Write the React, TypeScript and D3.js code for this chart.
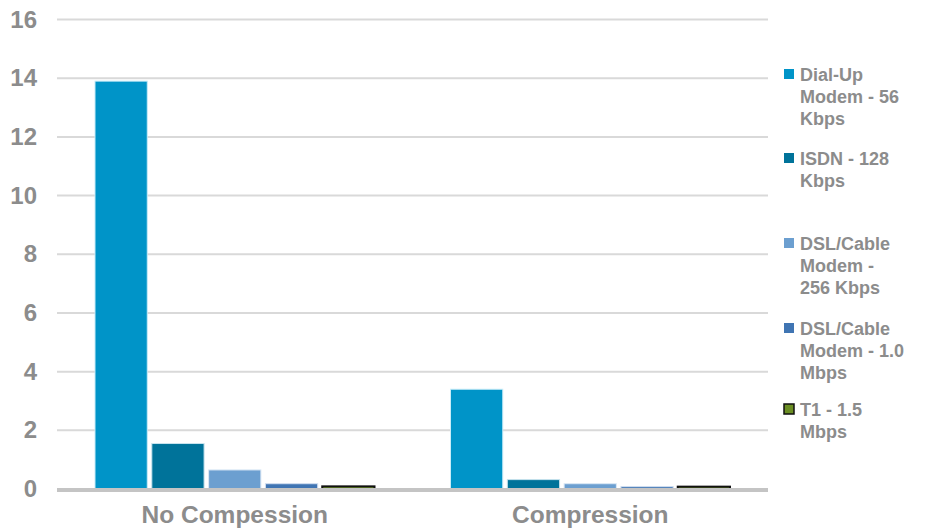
import * as d3 from "d3";

const categories = ["No Compession", "Compression"];
const series = [
  "Dial-Up Modem - 56 Kbps",
  "ISDN - 128 Kbps",
  "DSL/Cable Modem - 256 Kbps",
  "DSL/Cable Modem - 1.0 Mbps",
  "T1 - 1.5 Mbps",
];
// values per series: [No Compession, Compression]
const dialUp = [13.9, 3.4];
const isdn = [1.55, 0.32];
const dsl256 = [0.65, 0.18];
const dsl1 = [0.18, 0.08];
const t1 = [0.09, 0.08];
const yTicks = [0, 2, 4, 6, 8, 10, 12, 14, 16];

// legend lines are wrapped like the original
const legendLines = [
  ["Dial-Up", "Modem - 56", "Kbps"],
  ["ISDN - 128", "Kbps"],
  ["DSL/Cable", "Modem -", "256 Kbps"],
  ["DSL/Cable", "Modem - 1.0", "Mbps"],
  ["T1 - 1.5", "Mbps"],
];
const legendTop = [81, 165, 250, 335, 416];

const colors = ["#0094c8", "#00739a", "#6c9fd0", "#4075b3", "#6b8e23"];
const strokes = ["#c8ecf8", "#c8e4ee", "#dbe8f5", "#d2def0", "#111111"];

const W = 925;
const H = 531;
const left = 57;
const right = 768;
const top = 19.5;
const bottom = 489;
const gray = "#8c8c8c";
const font = "'Liberation Sans', Arial, sans-serif";

export default function App() {
  const valueRows = [dialUp, isdn, dsl256, dsl1, t1];

  const y = d3.scaleLinear().domain([0, 16]).range([bottom, top]);
  const x0 = d3.scaleBand<string>().domain(categories).range([left, right]).padding(0);
  const x1 = d3
    .scaleBand<string>()
    .domain(series)
    .range([38, x0.bandwidth() - 38])
    .paddingInner(0.08);

  return (
    <svg
      width={W}
      height={H}
      style={{ position: "absolute", left: 0, top: 0, background: "#fff" }}
      fontFamily={font}
    >
      <g>
        {yTicks
          .filter((t) => t > 0)
          .map((t) => (
            <line
              key={t}
              x1={left}
              x2={right}
              y1={y(t)}
              y2={y(t)}
              stroke="#d9d9d9"
              strokeWidth={2}
            />
          ))}
      </g>
      <g>
        {yTicks.map((t) => (
          <text
            key={t}
            x={37}
            y={y(t)}
            dy="0.34em"
            textAnchor="end"
            fontSize={24}
            fontWeight="bold"
            fill={gray}
          >
            {t}
          </text>
        ))}
      </g>
      <g>
        {categories.map((c, ci) => (
          <g key={c} transform={`translate(${x0(c)},0)`}>
            {series.map((s, si) => {
              const v = valueRows[si][ci];
              return (
                <rect
                  key={s}
                  x={x1(s)}
                  y={y(v)}
                  width={x1.bandwidth()}
                  height={bottom - y(v)}
                  fill={colors[si]}
                  stroke={strokes[si]}
                  strokeWidth={si === 4 ? 2 : 1}
                />
              );
            })}
          </g>
        ))}
      </g>
      <line x1={left} x2={right} y1={bottom + 1} y2={bottom + 1} stroke="#c4c4c4" strokeWidth={4} />
      <g>
        {categories.map((c) => (
          <text
            key={c}
            x={(x0(c) as number) + x0.bandwidth() / 2}
            y={523}
            textAnchor="middle"
            fontSize={24.5}
            fontWeight="bold"
            fill={gray}
          >
            {c}
          </text>
        ))}
      </g>
      <g>
        {series.map((s, si) => (
          <g key={s}>
            <rect
              x={784}
              y={legendTop[si] - 12}
              width={10}
              height={10}
              fill={colors[si]}
              stroke={si === 4 ? "#111" : "none"}
              strokeWidth={1.5}
            />
            <text fontSize={18} fontWeight="bold" fill={gray}>
              {legendLines[si].map((line, li) => (
                <tspan key={li} x={800} y={legendTop[si] + li * 22}>
                  {line}
                </tspan>
              ))}
            </text>
          </g>
        ))}
      </g>
    </svg>
  );
}
